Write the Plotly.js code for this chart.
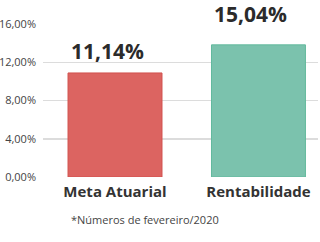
<!DOCTYPE html>
<html><head><meta charset="utf-8">
<script src="https://cdn.plot.ly/plotly-3.0.1.min.js"></script>
<style>html,body{margin:0;padding:0;background:#fff}#c{width:320px;height:242px}</style>
</head><body><div id="c"></div>
<script>
const categories = ["Meta Atuarial", "Rentabilidade"];
const barValues = [10.88, 13.82];
const labelValues = [11.14, 15.04];
const labelTexts = ["11,14%", "15,04%"];
const tickValues = [0, 4, 8, 12, 16];
const tickLabels = ["0,00%", "4,00%", "8,00%", "12,00%", "16,00%"];
const footnote = "*Números de fevereiro/2020";

const font = "Open Sans, sans-serif";
const trace = {
  type: "bar",
  x: [0, 1],
  y: barValues,
  width: 0.655,
  marker: {color: ["#dc6461", "#7bc2ad"], line: {color: ["#d2514e", "#62b99d"], width: 1}},
  hoverinfo: "none"
};
const annotations = labelTexts.map((t, i) => ({
  x: i, y: labelValues[i], xref: "x", yref: "y", text: "<b>" + t + "</b>",
  showarrow: false, yanchor: "bottom", xshift: -8, yshift: 4, borderpad: 0,
  font: {family: font, size: 21, color: "#2b2b2b"}
}));
const L = 43, R = 2, T = 24, B = 65, W = 320, H = 242;
const pw = W - L - R, ph = H - T - B;
annotations.push({
  x: (69 - L) / pw, y: (H - B - 219) / ph, xref: "paper", yref: "paper", text: footnote, showarrow: false,
  font: {family: font, size: 11, color: "#444"}, xanchor: "left", yanchor: "middle"
});

const layout = {
  width: W, height: H,
  margin: {l: L, r: R, t: T, b: B, pad: 0},
  paper_bgcolor: "#fff", plot_bgcolor: "#fff",
  showlegend: false,
  xaxis: {
    range: [-0.502, 1.415], tickvals: [0, 1], ticktext: categories.map(c => "<b>" + c + "</b>"),
    tickfont: {family: font, size: 15, color: "#333"}, showgrid: false, zeroline: false,
    showline: false, ticks: "", ticklabelstandoff: 4, fixedrange: true
  },
  yaxis: {
    range: [0, 16], tickvals: tickValues, ticktext: tickLabels,
    tickfont: {family: font, size: 11, color: "#444"},
    showgrid: true, gridcolor: "#dcdcdc", gridwidth: 1.5, zeroline: false, showline: false,
    ticks: "", ticklabelstandoff: 6, fixedrange: true
  },
  annotations: annotations
};
Plotly.newPlot("c", [trace], layout, {displayModeBar: false, staticPlot: true});
</script></body></html>
